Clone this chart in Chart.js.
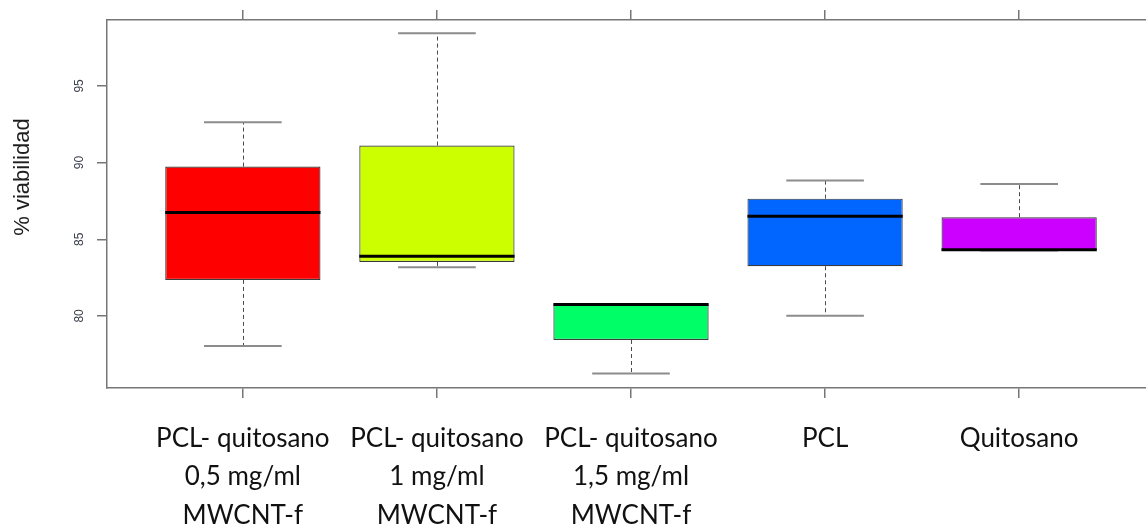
<!DOCTYPE html>
<html>
<head>
<meta charset="utf-8">
<script src="https://cdn.jsdelivr.net/npm/chart.js@4.4.1/dist/chart.umd.min.js"></script>
<style>
  html, body { margin: 0; padding: 0; overflow: hidden; background: #ffffff; }
  #wrap { width: 1160px; height: 529px; }
</style>
</head>
<body>
<div id="wrap"><canvas id="c" width="1160" height="529"></canvas></div>
<script>
// Groups (multi-line tick labels)
const categories = [
  ["PCL- quitosano", "0,5 mg/ml", "MWCNT-f"],
  ["PCL- quitosano", "1 mg/ml", "MWCNT-f"],
  ["PCL- quitosano", "1,5 mg/ml", "MWCNT-f"],
  ["PCL"],
  ["Quitosano"]
];

// Five-number summaries of % viability per group
const lowerWhisker = [78.04, 83.17, 76.24, 80.02, 84.26];
const q1           = [82.35, 83.52, 78.43, 83.24, 84.26];
const median       = [86.74, 83.89, 80.74, 86.50, 84.31];
const q3           = [89.74, 91.11, 80.74, 87.65, 86.44];
const upperWhisker = [92.63, 98.44, 80.74, 88.83, 88.61];

const boxColors = ["#FF0000", "#CCFF00", "#00FF66", "#0066FF", "#CC00FF"];
const yTicks = [80, 85, 90, 95];
const yTitle = "% viabilidad";

const FRAME = "#767676";

// Whiskers, staples, medians and the y title, positioned through the chart scales
const boxPlot = {
  id: "boxPlot",
  beforeDatasetsDraw(chart) {
    const { ctx, scales: { x, y } } = chart;
    ctx.save();
    categories.forEach((c, i) => {
      const cx = Math.round(x.getPixelForValue(i + 1)) + 0.5;
      ctx.setLineDash([4, 3]);
      ctx.strokeStyle = "#4a4a4a";
      ctx.lineWidth = 1;
      ctx.beginPath();
      ctx.moveTo(cx, y.getPixelForValue(q3[i]));
      ctx.lineTo(cx, y.getPixelForValue(upperWhisker[i]));
      ctx.moveTo(cx, y.getPixelForValue(q1[i]));
      ctx.lineTo(cx, y.getPixelForValue(lowerWhisker[i]));
      ctx.stroke();
      ctx.setLineDash([]);
      ctx.strokeStyle = "#8c8c8c";
      ctx.lineWidth = 2;
      ctx.beginPath();
      [upperWhisker[i], lowerWhisker[i]].forEach(v => {
        const py = y.getPixelForValue(v);
        ctx.moveTo(x.getPixelForValue(i + 0.8), py);
        ctx.lineTo(x.getPixelForValue(i + 1.2), py);
      });
      ctx.stroke();
    });
    ctx.restore();
  },
  afterDatasetsDraw(chart) {
    const { ctx, scales: { x, y } } = chart;
    ctx.save();
    ctx.strokeStyle = "#000000";
    ctx.lineWidth = 3;
    categories.forEach((c, i) => {
      const py = y.getPixelForValue(median[i]);
      ctx.beginPath();
      ctx.moveTo(x.getPixelForValue(i + 0.6), py);
      ctx.lineTo(x.getPixelForValue(i + 1.4), py);
      ctx.stroke();
    });
    ctx.restore();
  },
  afterDraw(chart) {
    const { ctx } = chart;
    ctx.save();
    ctx.translate(23, 177);
    ctx.rotate(-Math.PI / 2);
    ctx.font = '22px "Liberation Sans", Arial, sans-serif';
    ctx.fillStyle = "#1e1e1e";
    ctx.textAlign = "center";
    ctx.textBaseline = "middle";
    ctx.fillText(yTitle, 0, 0);
    ctx.restore();
  }
};

const categoryTicks = scale => { scale.ticks = categories.map((c, i) => ({ value: i + 1 })); };

new Chart(document.getElementById("c"), {
  type: "bar",
  data: {
    datasets: [{
      data: categories.map((c, i) => ({ x: i + 1, y: [q1[i], q3[i]] })),
      backgroundColor: boxColors,
      borderColor: "#3a3a3a",
      borderWidth: 1.2,
      borderSkipped: false,
      categoryPercentage: 1.0,
      barPercentage: 0.8
    }]
  },
  options: {
    responsive: false,
    animation: false,
    layout: { padding: { left: 0, right: 5, top: 0, bottom: 0 } },
    plugins: { legend: { display: false }, tooltip: { enabled: false } },
    scales: {
      x: {
        type: "linear",
        position: "bottom",
        offset: false,
        min: 0.3,
        max: 5.7,
        afterBuildTicks: categoryTicks,
        afterFit: s => { s.height = 141; },
        grid: { offset: false, drawOnChartArea: false, drawTicks: true, tickLength: 10, color: FRAME, lineWidth: 1.5 },
        border: { display: true, color: FRAME, width: 1.5 },
        ticks: {
          autoSkip: false,
          maxRotation: 0,
          minRotation: 0,
          padding: 21,
          color: "#111111",
          font: { family: "Lato, 'Open Sans', sans-serif", size: 26, lineHeight: "38.5px" },
          callback: (v, i) => categories[i]
        }
      },
      xTop: {
        axis: "x",
        type: "linear",
        position: "top",
        offset: false,
        min: 0.3,
        max: 5.7,
        afterBuildTicks: categoryTicks,
        afterFit: s => { s.height = 20; },
        grid: { offset: false, drawOnChartArea: false, drawTicks: true, tickLength: 10, color: FRAME, lineWidth: 1.5 },
        border: { display: true, color: FRAME, width: 1.5 },
        ticks: { autoSkip: false, maxRotation: 0, minRotation: 0, callback: () => "" }
      },
      y: {
        type: "linear",
        position: "left",
        min: 75.3,
        max: 99.3,
        afterBuildTicks: s => { s.ticks = yTicks.map(v => ({ value: v })); },
        afterFit: s => { s.width = 107; },
        grid: { drawOnChartArea: false, drawTicks: true, tickLength: 10, color: FRAME, lineWidth: 1.5 },
        border: { display: true, color: FRAME, width: 1.5 },
        ticks: {
          minRotation: 90,
          maxRotation: 90,
          crossAlign: "center",
          padding: 11,
          color: "#3a3f4a",
          font: { family: "'Liberation Sans', Arial, sans-serif", size: 12 }
        }
      }
    }
  },
  plugins: [boxPlot]
});
</script>
</body>
</html>
